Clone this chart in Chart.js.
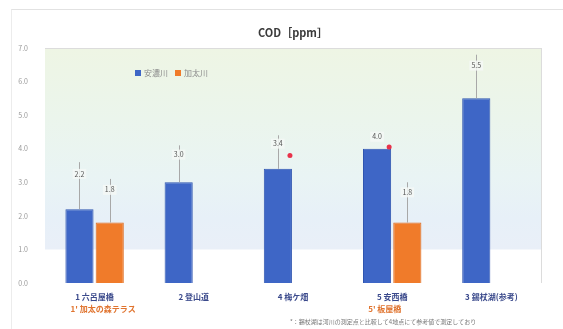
<!DOCTYPE html>
<html lang="ja">
<head>
    <meta charset="UTF-8">
    <title>COD</title>
    <script src="https://cdn.jsdelivr.net/npm/chart.js"></script>
    <style>
        body {
            margin: 0;
            background-color: white;
            font-family: "Noto Sans CJK JP", sans-serif;
        }
        .frame {
            position: absolute;
            left: 11px;
            top: 9px;
            width: 552px;
            height: 320px;
            border-top: 1px solid #e2e2e2;
            border-left: 1px solid #ececec;
        }
        .chart-container {
            position: relative;
            width: 563px;
            height: 329px;
        }
    </style>
</head>
<body>
    <div class="frame"></div>
    <div class="chart-container">
        <canvas id="codChart"></canvas>
    </div>

    <script>
        const sites = ['1 六呂屋橋', '2 登山道', '4 梅ケ畑', '5 安西橋', '3 錫杖湖(参考)'];
        const subSites = ["1' 加太の森テラス", '', '', "5' 板屋橋", ''];
        const anoValues = [2.2, 3.0, 3.4, 4.0, 5.5];
        const kabutoValues = [1.8, null, null, 1.8, null];
        const anoMax = [3.6, 4.1, 4.4, null, 6.8];
        const kabutoMax = [3.1, null, null, 3.0, null];
        const flagPoints = [null, null, 3.8, 4.05, null];
        const yTicks = [0, 1, 2, 3, 4, 5, 6, 7];

        const FONT = '"Noto Sans CJK JP", sans-serif';

        // background bands, error lines, value labels, legend and two-line site names
        const decorations = {
            id: 'decorations',
            beforeDatasetsDraw(chart) {
                const { ctx, chartArea: a } = chart;
                const g = ctx.createLinearGradient(0, a.top, 0, a.bottom);
                g.addColorStop(0, '#eef5e4');
                g.addColorStop(0.3, '#ebf5ec');
                g.addColorStop(0.55, '#e9f4f4');
                g.addColorStop(0.72, '#e7f0f8');
                g.addColorStop(0.855, '#e9eff8');
                g.addColorStop(0.86, '#ffffff');
                g.addColorStop(1, '#ffffff');
                ctx.save();
                ctx.fillStyle = g;
                ctx.fillRect(a.left, a.top, a.right - a.left, a.bottom - a.top);
                ctx.strokeStyle = '#dcdcdc';
                ctx.lineWidth = 1;
                ctx.beginPath();
                ctx.moveTo(a.right + 0.5, a.top);
                ctx.lineTo(a.right + 0.5, a.bottom);
                ctx.moveTo(a.left, a.top + 0.5);
                ctx.lineTo(a.right, a.top + 0.5);
                ctx.stroke();
                ctx.restore();
            },
            afterDatasetsDraw(chart) {
                const { ctx, chartArea: a } = chart;
                const y = chart.scales.y;
                const x = chart.scales.x;
                const maxes = [anoMax, kabutoMax];
                ctx.save();

                // error lines and value labels
                chart.data.datasets.forEach((ds, di) => {
                    const meta = chart.getDatasetMeta(di);
                    meta.data.forEach((bar, i) => {
                        const v = ds.data[i];
                        if (v === null) return;
                        const topY = y.getPixelForValue(v);
                        const m = maxes[di][i];
                        let labelY = topY - 12;
                        if (m !== null) {
                            const mY = y.getPixelForValue(m);
                            ctx.strokeStyle = '#a8a8a8';
                            ctx.lineWidth = 1;
                            ctx.beginPath();
                            ctx.moveTo(Math.round(bar.x) + 0.5, mY);
                            ctx.lineTo(Math.round(bar.x) + 0.5, topY);
                            ctx.stroke();
                            labelY = mY + (topY - mY) * 0.25;
                        }
                        const txt = v.toFixed(1);
                        ctx.font = '7px ' + FONT;
                        const w = ctx.measureText(txt).width;
                        ctx.fillStyle = 'rgba(245,248,246,0.85)';
                        ctx.fillRect(bar.x - w / 2 - 2, labelY - 5, w + 4, 10);
                        ctx.fillStyle = '#555';
                        ctx.textAlign = 'center';
                        ctx.textBaseline = 'middle';
                        ctx.fillText(txt, bar.x, labelY);
                    });
                });

                // red markers at the blue bar corner
                const blueMeta = chart.getDatasetMeta(0);
                flagPoints.forEach((v, i) => {
                    if (v === null) return;
                    const bar = blueMeta.data[i];
                    ctx.fillStyle = '#e8324a';
                    ctx.beginPath();
                    ctx.arc(bar.x + bar.width / 2 - 2, y.getPixelForValue(v), 2.5, 0, Math.PI * 2);
                    ctx.fill();
                });

                // legend inside the plot
                let lx = 135;
                const ly = 73;
                ctx.font = '8px ' + FONT;
                ctx.textAlign = 'left';
                ctx.textBaseline = 'middle';
                chart.data.datasets.forEach(ds => {
                    ctx.fillStyle = ds.backgroundColor;
                    ctx.fillRect(lx, ly - 3, 6, 6);
                    ctx.fillStyle = '#8a8a8a';
                    ctx.fillText(ds.label, lx + 9, ly);
                    lx += 9 + ctx.measureText(ds.label).width + 7;
                });

                // site names, second line for the 加太川 point
                ctx.textAlign = 'center';
                ctx.textBaseline = 'middle';
                sites.forEach((s, i) => {
                    const cx = x.getPixelForValue(i);
                    ctx.font = 'bold 8px ' + FONT;
                    ctx.fillStyle = '#3b4a8c';
                    ctx.fillText(s, cx, a.bottom + 14);
                    if (subSites[i]) {
                        ctx.fillStyle = '#e0742f';
                        ctx.textAlign = 'left';
                        ctx.fillText(subSites[i], cx - 24, a.bottom + 26);
                        ctx.textAlign = 'center';
                    }
                });

                // title
                ctx.font = 'bold 11px ' + FONT;
                ctx.fillStyle = '#3a3a3a';
                ctx.textAlign = 'center';
                ctx.fillText('COD［ppm］', (a.left + a.right) / 2, 33);

                // footnote
                ctx.font = '6px ' + FONT;
                ctx.fillStyle = '#777';
                ctx.textAlign = 'left';
                ctx.fillText('*：錫杖湖は河川の測定点と比較して4地点にて参考値で測定しており', 290, 322);
                ctx.restore();
            }
        };

        new Chart(document.getElementById('codChart'), {
            type: 'bar',
            data: {
                labels: sites,
                datasets: [
                    {
                        label: '安濃川',
                        data: anoValues,
                        backgroundColor: '#3e66c6',
                        borderColor: '#2f55b0',
                        borderWidth: 1,
                        categoryPercentage: 0.61,
                        barPercentage: 0.93
                    },
                    {
                        label: '加太川',
                        data: kabutoValues,
                        backgroundColor: '#f07b2a',
                        borderColor: '#dd6a1e',
                        borderWidth: 1,
                        categoryPercentage: 0.61,
                        barPercentage: 0.93
                    }
                ]
            },
            options: {
                responsive: true,
                maintainAspectRatio: false,
                animation: false,
                layout: {
                    padding: { top: 48, right: 22, bottom: 46, left: 0 }
                },
                plugins: {
                    legend: { display: false },
                    tooltip: { enabled: false }
                },
                scales: {
                    x: {
                        display: false
                    },
                    y: {
                        min: 0,
                        max: 7,
                        afterFit: s => { s.width = 45; },
                        afterBuildTicks: s => { s.ticks = yTicks.map(v => ({ value: v })); },
                        grid: { display: false },
                        border: { display: false },
                        ticks: {
                            padding: 9,
                            color: '#999',
                            font: { size: 7, family: FONT },
                            callback: v => v.toFixed(1)
                        }
                    }
                }
            },
            plugins: [decorations]
        });
    </script>
</body>
</html>
